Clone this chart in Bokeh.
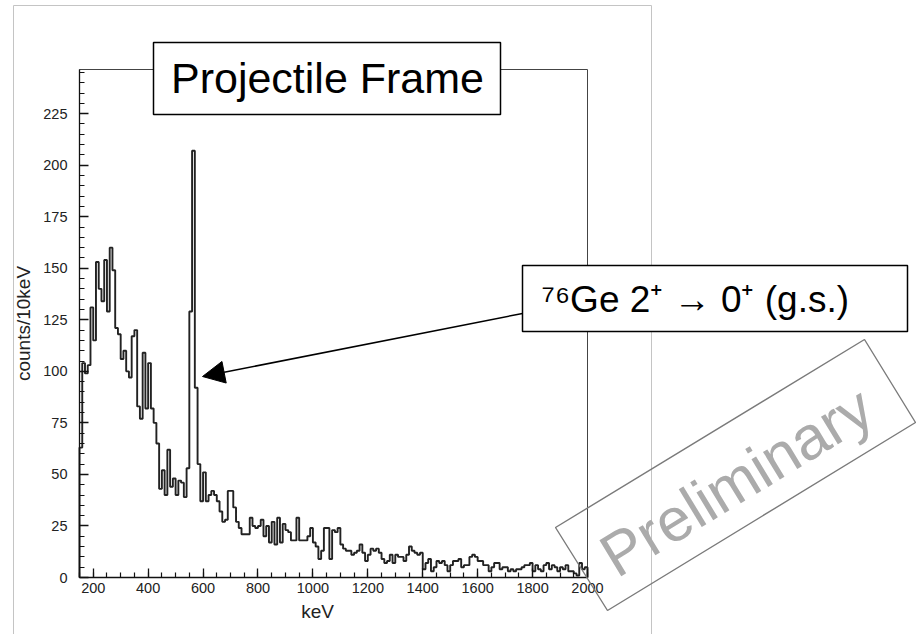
import numpy as np
from bokeh.plotting import figure
from bokeh.models import (Range1d, Label, Arrow, NormalHead, BoxAnnotation,
                          PolyAnnotation, FixedTicker)
from bokeh.embed import file_html
from bokeh.resources import INLINE

# Gamma spectrum in the projectile frame, 10 keV bins starting at 150 keV
bin_width = 10
first_bin = 150
counts = [
    63, 104, 99, 103, 131, 115, 153, 140, 134, 154,     # 150-240
    129, 160, 149, 121, 118, 106, 110, 100, 97, 117,    # 250-340
    120, 83, 77, 109, 82, 104, 82, 75, 65, 43,          # 350-440
    52, 40, 62, 44, 48, 40, 47, 46, 39, 53,             # 450-540
    129, 207, 92, 55, 37, 51, 37, 40, 42, 40,           # 550-640
    37, 32, 27, 28, 42, 42, 34, 27, 24, 21,             # 650-740
    21, 21, 29, 25, 24, 25, 28, 20, 25, 17,             # 750-840
    27, 16, 29, 17, 26, 23, 22, 18, 18, 29,             # 850-940
    18, 18, 18, 20, 24, 17, 15, 9, 13, 24,              # 950-1040
    24, 9, 23, 22, 24, 16, 14, 13, 13, 11,              # 1050-1140
    12, 13, 16, 12, 8, 11, 14, 13, 14, 12,              # 1150-1240
    9, 7, 8, 11, 7, 11, 10, 10, 8, 11,                  # 1250-1340
    15, 13, 12, 11, 12, 4, 7, 9, 3, 5,                  # 1350-1440
    8, 7, 8, 6, 3, 6, 8, 8, 9, 5,                       # 1450-1540
    6, 6, 10, 11, 10, 8, 8, 6, 6, 3,                    # 1550-1640
    5, 7, 7, 4, 5, 5, 3, 4, 3, 4,                       # 1650-1740
    4, 5, 6, 6, 7, 3, 6, 4, 3, 6,                       # 1750-1840
    7, 4, 6, 5, 3, 5, 4, 6, 3, 3,                       # 1850-1940
    2, 1, 7, 4, 5,                                      # 1950-1990
]
x_ticks = [200, 400, 600, 800, 1000, 1200, 1400, 1600, 1800, 2000]
y_ticks = [0, 25, 50, 75, 100, 125, 150, 175, 200, 225]

title_text = "Projectile Frame"
peak_text = "\u2077\u2076Ge 2\u207a \u2192 0\u207a (g.s.)"
stamp_text = "Preliminary"

# canvas and histogram-frame geometry (pixels from the top-left corner)
W, H = 924, 634
FL, FR, FT, FB = 79, 587, 69, 577
X0, X1 = 150, 2000
Y0, Y1 = 0, 246.4
KX = (X1 - X0) / (FR - FL)   # keV per pixel
KY = (Y1 - Y0) / (FB - FT)   # counts per pixel


def sx(px):
    return X0 + (px - FL) * KX


def sy(py):
    return Y0 + (FB - py) * KY


def text_y(baseline_py, size):
    # labels are centred vertically on their anchor; shift so the
    # alphabetic baseline lands on the requested pixel row
    return sy(baseline_py - 0.35 * size)


# the plotting area spans the whole canvas so that the boxes and the stamp
# can reach outside the histogram frame
p = figure(width=W, height=H, output_backend="svg", toolbar_location=None,
           x_range=Range1d(sx(0), sx(W)), y_range=Range1d(sy(H), sy(0)),
           min_border=0)
p.xgrid.visible = False
p.ygrid.visible = False
p.outline_line_color = None
p.background_fill_color = "white"
p.border_fill_color = "white"

# page border
p.add_layout(BoxAnnotation(left=sx(13), right=sx(651), top=sy(5), bottom=sy(H + 20),
                           fill_alpha=0, line_color="#c4c4c4", line_alpha=1,
                           line_width=1))

# histogram frame (top and right edges; left and bottom come from the axes)
p.add_layout(BoxAnnotation(left=X0, right=X1, bottom=Y0, top=Y1,
                           fill_alpha=0, line_color="#444444", line_alpha=1,
                           line_width=1, level="underlay"))

# histogram outline drawn as steps closed to the baseline
edges = first_bin + bin_width * np.arange(len(counts) + 1)
hx = [edges[0]]
hy = [0]
for i, c in enumerate(counts):
    hx += [edges[i], edges[i + 1]]
    hy += [c, c]
hx.append(edges[-1])
hy.append(0)
p.line(hx, hy, line_color="#222222", line_width=1.9)

# ROOT-like axes: ticks pointing into the frame
xa, ya = p.xaxis[0], p.yaxis[0]
xa.fixed_location = Y0
ya.fixed_location = X0
xa.bounds = (X0, X1)
ya.bounds = (Y0, Y1)
for ax in (xa, ya):
    ax.major_tick_in = 9
    ax.major_tick_out = 0
    ax.minor_tick_in = 5
    ax.minor_tick_out = 0
    ax.axis_line_color = "#111111"
    ax.axis_line_width = 1.3
    ax.major_tick_line_color = "#111111"
    ax.major_tick_line_width = 1.3
    ax.minor_tick_line_color = "#111111"
    ax.minor_tick_line_width = 1.2
    ax.major_label_text_font = "Liberation Sans"
    ax.major_label_text_font_size = "14.5px"
    ax.major_label_text_color = "#222222"
xa.ticker = FixedTicker(ticks=x_ticks, minor_ticks=list(range(150, 2001, 50)))
ya.ticker = FixedTicker(ticks=y_ticks, minor_ticks=list(range(0, 246, 5)))
xa.major_label_standoff = 5
ya.major_label_standoff = 12
ya.axis_label = "counts/10keV"
ya.axis_label_text_font = "Liberation Sans"
ya.axis_label_text_font_size = "19px"
ya.axis_label_text_font_style = "normal"
ya.axis_label_text_color = "#222222"
ya.axis_label_standoff = 6

p.add_layout(Label(x=sx(317), y=text_y(618, 19), text="keV", text_align="center",
                   text_baseline="alphabetic", text_font="Liberation Sans",
                   text_font_size="19px", text_color="#222222"))

# title box
p.add_layout(BoxAnnotation(left=sx(153), right=sx(500), top=sy(42), bottom=sy(114),
                           fill_color="white", fill_alpha=1,
                           line_color="black", line_alpha=1, line_width=1.5))
p.add_layout(Label(x=sx(327), y=text_y(93, 43), text=title_text, text_align="center",
                   text_baseline="alphabetic", text_font="Liberation Sans",
                   text_font_size="43px", text_color="black"))

# peak annotation box and arrow
p.add_layout(BoxAnnotation(left=sx(522), right=sx(907), top=sy(265), bottom=sy(331),
                           fill_color="white", fill_alpha=1,
                           line_color="black", line_alpha=1, line_width=1.5))
p.add_layout(Label(x=sx(541), y=text_y(312, 37), text=peak_text, text_align="left",
                   text_baseline="alphabetic", text_font="Liberation Sans",
                   text_font_size="37px", text_color="black"))
p.add_layout(Arrow(x_start=sx(522), y_start=sy(313), x_end=sx(202), y_end=sy(376),
                   line_color="black", line_width=1.5,
                   end=NormalHead(size=22, fill_color="black", line_color="black")))

# "Preliminary" stamp
p.add_layout(PolyAnnotation(xs=[sx(555), sx(864), sx(915), sx(607)],
                            ys=[sy(527), sy(339), sy(422), sy(610)],
                            fill_alpha=0, line_color="#7a7a7a", line_alpha=1,
                            line_width=1.4))
p.add_layout(Label(x=sx(736), y=sy(481), text=stamp_text, angle=31.3,
                   angle_units="deg", text_align="center", text_baseline="middle",
                   text_font="Liberation Sans", text_font_size="61px",
                   text_color="#ababab"))

open("out.html", "w").write(file_html(p, INLINE))
